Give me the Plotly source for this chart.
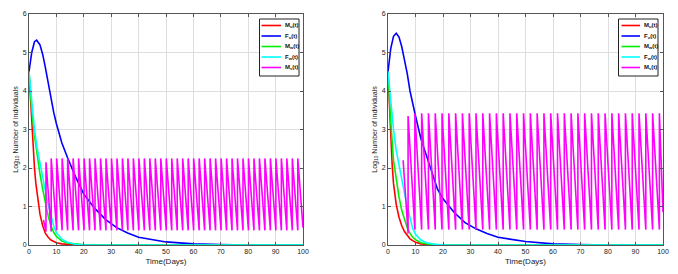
import plotly.graph_objects as go

# ---------------- data ----------------
# Left panel
t_Mu_L = [0, 0.5, 1, 1.5, 2, 2.5, 3, 4, 5, 6, 7, 8, 10, 12, 15, 20, 100]
v_Mu_L = [4.5, 3.8, 3.1, 2.5, 2.0, 1.6, 1.3, 0.8, 0.5, 0.3, 0.2, 0.13, 0.06, 0.03, 0.01, 0, 0]

t_Fu_L = [0, 1, 2, 2.8, 4, 5, 6, 7, 8, 9, 10, 11, 12, 14, 17, 20, 24, 28, 32, 36, 40, 50, 60, 70, 80, 100]
v_Fu_L = [4.5, 5.0, 5.28, 5.32, 5.2, 4.95, 4.6, 4.2, 3.8, 3.45, 3.15, 2.9, 2.65, 2.28, 1.77, 1.32, 0.95, 0.66, 0.45, 0.31, 0.2, 0.08, 0.03, 0.01, 0, 0]

t_Mw_L = [0, 0.5, 1, 2, 3, 4, 5, 6, 7, 8, 9, 10, 12, 14, 17, 20, 25, 100]
v_Mw_L = [4.5, 4.0, 3.5, 2.85, 2.3, 1.85, 1.45, 1.05, 0.75, 0.5, 0.33, 0.22, 0.1, 0.05, 0.02, 0.005, 0, 0]

t_Fw_L = [0, 0.5, 1, 2, 3, 4, 5, 6, 7, 8, 9, 10, 11, 12, 14, 17, 20, 25, 100]
v_Fw_L = [4.5, 4.1, 3.7, 3.0, 2.5, 2.1, 1.75, 1.4, 1.05, 0.75, 0.5, 0.32, 0.22, 0.15, 0.07, 0.02, 0.005, 0, 0]

ms_rel_L = [5.3, 6.2, 8.1, 10.1, 12.1, 14.1, 16.1, 18.1, 20.1, 22.1, 24.1, 26.1, 28.1,
            30.1, 32.1, 34.1, 36.1, 38.1, 40.1, 42.1, 44.1, 46.1, 48.1, 50.1, 52.1,
            54.1, 56.1, 58.1, 60.1, 62.1, 64.1, 66.1, 68.1, 70.1, 72.1, 74.1, 76.1,
            78.1, 80.1, 82.1, 84.1, 86.1, 88.1, 90.1, 92.1, 94.1, 96.1, 98.1]
ms_peak_L = [0.65, 2.15] + [2.25] * 46
ms_trough_L = [0.35, 0.35] + [0.38] * 45
ms_end_L = 0.45

# Right panel
t_Mu_R = [0, 0.5, 1, 1.5, 2, 3, 4, 5, 6, 7, 8, 10, 12, 15, 20, 100]
v_Mu_R = [4.5, 3.6, 2.8, 2.1, 1.6, 1.05, 0.72, 0.5, 0.35, 0.24, 0.16, 0.07, 0.03, 0.01, 0, 0]

t_Fu_R = [0, 1, 2, 3, 4, 5, 6, 7, 8, 9, 10, 12, 14, 16, 18, 20, 24, 28, 32, 36, 40, 50, 60, 70, 80, 100]
v_Fu_R = [4.5, 5.1, 5.42, 5.5, 5.4, 5.15, 4.8, 4.45, 4.0, 3.65, 3.35, 2.75, 2.3, 1.85, 1.45, 1.2, 0.85, 0.58, 0.42, 0.3, 0.2, 0.09, 0.03, 0.01, 0, 0]

t_Mw_R = [0, 0.5, 1, 2, 3, 4, 5, 6, 7, 8, 9, 10, 12, 15, 20, 100]
v_Mw_R = [4.5, 3.8, 3.2, 2.2, 1.65, 1.25, 0.9, 0.65, 0.45, 0.3, 0.2, 0.14, 0.06, 0.02, 0, 0]

t_Fw_R = [0, 0.5, 1, 2, 3, 4, 5, 6, 7, 8, 9, 10, 12, 14, 17, 20, 25, 100]
v_Fw_R = [4.5, 4.1, 3.7, 3.0, 2.45, 2.05, 1.7, 1.35, 1.0, 0.7, 0.42, 0.28, 0.13, 0.06, 0.02, 0.005, 0, 0]

ms_rel_R = [5.5, 7.3, 9.77, 12.24, 14.71, 17.18, 19.65, 22.12, 24.59, 27.06, 29.53,
            32.0, 34.47, 36.94, 39.41, 41.88, 44.35, 46.82, 49.29, 51.76, 54.23, 56.7,
            59.17, 61.64, 64.11, 66.58, 69.05, 71.52, 73.99, 76.46, 78.93, 81.4, 83.87,
            86.34, 88.81, 91.28, 93.75, 96.22, 98.69]
ms_peak_R = [2.2, 3.35] + [3.42] * 37
ms_trough_R = [0.3, 0.4] + [0.4] * 36
ms_end_R = 0.85

labels = ["M<sub>u</sub>(t)", "F<sub>u</sub>(t)", "M<sub>w</sub>(t)", "F<sub>w</sub>(t)", "M<sub>s</sub>(t)"]
colors = ["#ff0000", "#0000ff", "#00ee00", "#00ffff", "#ff00ff"]
x_ticks = [0, 10, 20, 30, 40, 50, 60, 70, 80, 90, 100]
y_ticks = [0, 1, 2, 3, 4, 5, 6]

# ---------------- layout geometry ----------------
# the page body has an 8px margin, so the figure is sized to fit the window
OFF = 8
W, H = 670, 266
ML, MR, MT, MB = 21, 15, 6, 29
PW, PH = W - ML - MR, H - MT - MB


def px(x):  # window pixel -> paper fraction
    return (x - OFF - ML) / PW


def py(y):
    return (H - MB - (y - OFF)) / PH


def sawtooth(rel, peaks, troughs, end_val):
    xs, ys = [rel[0]], [peaks[0]]
    for i in range(1, len(rel)):
        xs += [rel[i], rel[i]]
        ys += [troughs[i - 1], peaks[i]]
    xs.append(100)
    ys.append(end_val)
    return xs, ys


fig = go.Figure()

panels = [
    ("x", "y", [(t_Mu_L, v_Mu_L), (t_Fu_L, v_Fu_L), (t_Mw_L, v_Mw_L), (t_Fw_L, v_Fw_L),
                sawtooth(ms_rel_L, ms_peak_L, ms_trough_L, ms_end_L)]),
    ("x2", "y2", [(t_Mu_R, v_Mu_R), (t_Fu_R, v_Fu_R), (t_Mw_R, v_Mw_R), (t_Fw_R, v_Fw_R),
                  sawtooth(ms_rel_R, ms_peak_R, ms_trough_R, ms_end_R)]),
]

for xa, ya, series in panels:
    for (xs, ys), name, col in zip(series, labels, colors):
        fig.add_trace(go.Scatter(x=xs, y=ys, mode="lines", name=name, showlegend=False,
                                 line=dict(color=col, width=1.6),
                                 xaxis=xa, yaxis=ya))

FONT = "Liberation Sans, Arial"
axis_common = dict(showline=True, linecolor="#555", linewidth=1, mirror="ticks",
                   ticks="inside", ticklen=3, tickcolor="#555",
                   showgrid=True, gridcolor="#dedede", gridwidth=1, zeroline=False,
                   automargin=False,
                   tickfont=dict(family=FONT, size=7, color="#222"))

xtitle = dict(text="Time(Days)", font=dict(family=FONT, size=8, color="#222"), standoff=3)
ytitle = dict(text="Log<sub>10</sub> Number of individuals",
              font=dict(family=FONT, size=7, color="#222"), standoff=3)

fig.update_layout(
    width=W, height=H,
    margin=dict(l=ML, r=MR, t=MT, b=MB),
    paper_bgcolor="white", plot_bgcolor="white",
    showlegend=False,
    xaxis=dict(domain=[0, px(303)], range=[0, 100], tickvals=x_ticks, title=xtitle, anchor="y", **axis_common),
    yaxis=dict(domain=[0, 1], range=[0, 6], tickvals=y_ticks, title=ytitle, anchor="x", **axis_common),
    xaxis2=dict(domain=[px(388), 1.0], range=[0, 100], tickvals=x_ticks, title=xtitle, anchor="y2", **axis_common),
    yaxis2=dict(domain=[0, 1], range=[0, 6], tickvals=y_ticks, title=ytitle, anchor="x2", **axis_common),
)

# ---------------- custom compact legends ----------------
shapes, annotations = [], []
legend_boxes = [(259.5, 299, 261.5, 281), (618.5, 658, 621.5, 640)]
entry_y = [25.5, 36, 46.5, 57, 67.5]
for bx0, bx1, lx0, lx1 in legend_boxes:
    shapes.append(dict(type="rect", xref="paper", yref="paper",
                       x0=px(bx0), x1=px(bx1), y0=py(76), y1=py(19),
                       line=dict(color="#222", width=1), fillcolor="white", layer="above"))
    for name, col, ey in zip(labels, colors, entry_y):
        shapes.append(dict(type="line", xref="paper", yref="paper",
                           x0=px(lx0), x1=px(lx1), y0=py(ey), y1=py(ey),
                           line=dict(color=col, width=1.6), layer="above"))
        annotations.append(dict(xref="paper", yref="paper", x=px(lx1 + 1.5), y=py(ey),
                                xanchor="left", yanchor="middle", showarrow=False,
                                text="<b>" + name + "</b>",
                                font=dict(family=FONT, size=6, color="#111")))

fig.update_layout(shapes=shapes, annotations=annotations)

fig.write_html("out.html")
